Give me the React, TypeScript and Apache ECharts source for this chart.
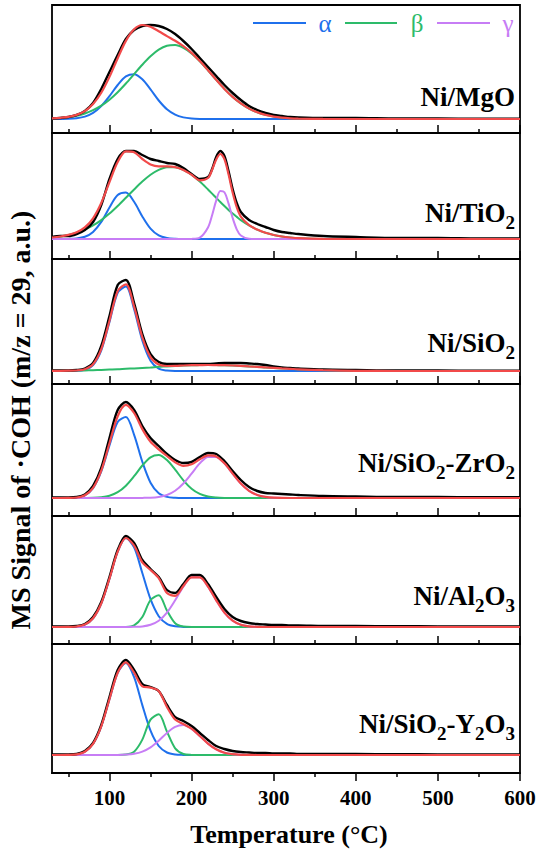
import React, { useEffect, useRef } from "react";
import * as echarts from "echarts";

// Temperature grids (°C)
const TEMPS = [30, 40, 50, 60, 70, 80, 90, 100, 110, 120, 130, 140, 150, 160, 170, 180, 190, 200, 210, 220, 230, 240, 250, 260, 270, 280, 290, 300, 310, 320, 330, 360, 400, 450, 500, 550, 600];
const TEMPS_TIO2 = [30, 40, 50, 60, 70, 80, 90, 100, 110, 120, 130, 140, 150, 160, 170, 180, 190, 200, 210, 220, 225, 230, 235, 240, 245, 250, 255, 260, 270, 280, 290, 300, 310, 320, 330, 360, 400, 450, 500, 550, 600];

const TICKS = [100, 200, 300, 400, 500, 600];
const MINOR_TICKS = [50, 150, 250, 350, 450, 550];

// Ni/MgO
const MGO_EXP = [0.5, 1, 2, 4, 8, 16, 30, 47, 64, 80, 89, 93, 94, 93, 90, 85, 78, 70, 61, 52, 43, 34, 26, 19, 13, 9, 6, 4, 3, 2, 1.5, 1, 1, 0.5, 0.5, 0.3, 0.3];
const MGO_FIT = [0.6, 1.2, 2.1, 4.1, 7.9, 14.9, 26.2, 42.1, 60.8, 78.1, 89.7, 94.0, 92.3, 87.8, 82.9, 78.2, 72.8, 66.1, 57.9, 48.7, 39.2, 30.1, 22.1, 15.6, 10.4, 6.7, 4.1, 2.4, 1.3, 0.7, 0.4, 0.1, 0, 0, 0, 0, 0];
const MGO_ALPHA = [0, 0.1, 0.2, 0.8, 2.4, 6.1, 12.9, 22.8, 34.0, 42.6, 44.8, 39.7, 29.6, 18.5, 9.7, 4.3, 1.6, 0.5, 0.1, 0, 0, 0, 0, 0, 0, 0, 0, 0, 0, 0, 0, 0, 0, 0, 0, 0, 0];
const MGO_BETA = [0.6, 1.1, 1.9, 3.3, 5.5, 8.8, 13.3, 19.3, 26.8, 35.5, 44.9, 54.3, 62.7, 69.3, 73.2, 73.9, 71.2, 65.6, 57.8, 48.7, 39.2, 30.1, 22.1, 15.6, 10.4, 6.7, 4.1, 2.4, 1.3, 0.7, 0.4, 0.1, 0, 0, 0, 0, 0];

// Ni/TiO2
const TIO2_EXP = [2, 3, 3, 5, 9, 17, 34, 60, 80, 88, 88, 84, 80, 78, 76, 75, 71, 65, 60, 62, 70, 82, 88, 83, 68, 50, 36, 27, 19, 15, 12, 9, 7, 6, 5, 3, 2, 1, 1, 0.5, 0.5];
const TIO2_FIT = [1.5, 2.5, 4.1, 6.7, 11.6, 20.7, 36.0, 56.9, 76.9, 87.6, 86.7, 80.0, 74.6, 72.7, 72.7, 71.9, 69.1, 64.3, 58.7, 61.0, 69.2, 79.6, 85.0, 79.8, 64.7, 46.5, 31.8, 22.4, 13.8, 9.4, 6.2, 4.0, 2.5, 1.5, 0.8, 0.1, 0, 0, 0, 0, 0];
const TIO2_ALPHA = [0, 0, 0.1, 0.5, 2.2, 7.1, 17.1, 31.5, 43.9, 46.4, 37.2, 22.6, 10.4, 3.6, 1.0, 0.2, 0, 0, 0, 0, 0, 0, 0, 0, 0, 0, 0, 0, 0, 0, 0, 0, 0, 0, 0, 0, 0, 0, 0, 0, 0];
const TIO2_BETA = [1.5, 2.5, 4.0, 6.2, 9.4, 13.6, 18.9, 25.4, 33.0, 41.2, 49.5, 57.4, 64.2, 69.1, 71.7, 71.7, 69.1, 64.2, 57.4, 49.5, 45.4, 41.2, 37.0, 33.0, 29.1, 25.4, 22.1, 18.9, 13.6, 9.4, 6.2, 4.0, 2.5, 1.5, 0.8, 0.1, 0, 0, 0, 0, 0];
const TIO2_GAMMA = [0, 0, 0, 0, 0, 0, 0, 0, 0, 0, 0, 0, 0, 0, 0, 0, 0, 0.1, 1.3, 11.5, 23.8, 38.4, 48.0, 46.8, 35.6, 21.1, 9.7, 3.5, 0.2, 0, 0, 0, 0, 0, 0, 0, 0, 0, 0, 0, 0];

// Ni/SiO2
const SIO2_EXP = [0.5, 0.5, 0.5, 1, 2.5, 8, 25, 55, 86, 91, 68, 37, 17, 9, 7, 7, 7, 7, 7, 7, 7.5, 8, 8, 8, 7.5, 7, 6, 4.5, 3.5, 3, 2.5, 1.5, 1, 0.5, 0.5, 0.3, 0.3];
const SIO2_FIT = [0.2, 0.2, 0.3, 0.5, 1.8, 6.7, 21.8, 50.3, 79.9, 86.7, 64.4, 33.7, 13.9, 6.5, 5.0, 5.1, 5.5, 5.8, 5.9, 6.0, 5.9, 5.8, 5.5, 5.1, 4.6, 4.2, 3.6, 3.1, 2.6, 2.2, 1.7, 0.8, 0.2, 0, 0, 0, 0];
const SIO2_ALPHA = [0, 0, 0, 0.1, 1.2, 5.9, 20.7, 48.9, 78.2, 84.5, 61.8, 30.6, 10.3, 2.3, 0.4, 0, 0, 0, 0, 0, 0, 0, 0, 0, 0, 0, 0, 0, 0, 0, 0, 0, 0, 0, 0, 0, 0];
const SIO2_BETA = [0.15, 0.2, 0.3, 0.4, 0.6, 0.8, 1.1, 1.4, 1.7, 2.2, 2.6, 3.1, 3.6, 4.2, 4.6, 5.1, 5.5, 5.8, 5.9, 6.0, 5.9, 5.8, 5.5, 5.1, 4.6, 4.2, 3.6, 3.1, 2.6, 2.2, 1.7, 0.8, 0.2, 0, 0, 0, 0];

// Ni/SiO2-ZrO2
const ZR_EXP = [0.5, 0.5, 0.5, 1, 3.5, 12, 30, 60, 88, 96, 88, 72, 60, 52, 44, 38, 35, 36, 41, 45, 44, 37, 27, 18, 11, 7, 5, 4.5, 4, 3.5, 3, 2, 1.5, 1, 1, 0.8, 0.8];
const ZR_FIT = [0, 0, 0.1, 0.5, 2.8, 10.1, 27.4, 54.8, 81.8, 93.2, 85.0, 68.9, 56.3, 48.7, 42.0, 35.7, 32.2, 33.7, 38.7, 42.6, 41.6, 34.7, 24.4, 14.5, 7.2, 3.0, 1.1, 0.3, 0.1, 0, 0, 0, 0, 0, 0, 0, 0];
const ZR_ALPHA = [0, 0, 0.1, 0.5, 2.7, 9.9, 26.6, 52.5, 76.0, 80.9, 63.2, 36.3, 15.3, 4.7, 1.1, 0.2, 0, 0, 0, 0, 0, 0, 0, 0, 0, 0, 0, 0, 0, 0, 0, 0, 0, 0, 0, 0, 0];
const ZR_BETA = [0, 0, 0, 0, 0.05, 0.2, 0.8, 2.3, 5.8, 12.3, 21.8, 32.5, 40.7, 42.9, 37.9, 28.3, 17.7, 9.3, 4.1, 1.5, 0.5, 0.1, 0, 0, 0, 0, 0, 0, 0, 0, 0, 0, 0, 0, 0, 0, 0];
const ZR_GAMMA = [0, 0, 0, 0, 0, 0, 0, 0, 0, 0, 0, 0.1, 0.3, 1.1, 3.0, 7.2, 14.5, 24.4, 34.6, 41.1, 41.1, 34.6, 24.4, 14.5, 7.2, 3.0, 1.1, 0.3, 0.1, 0, 0, 0, 0, 0, 0, 0, 0];

// Ni/Al2O3
const AL_EXP = [0.5, 0.5, 0.5, 1, 3, 10, 25, 50, 77, 91, 84, 67, 58, 50, 37, 34, 43, 52, 52, 43, 30, 18, 10, 6, 4, 3, 2.5, 2, 2, 1.5, 1.5, 1, 1, 0.8, 0.6, 0.5, 0.5];
const AL_FIT = [0, 0, 0.1, 0.5, 2.4, 8.7, 23.5, 48.3, 75.3, 89.0, 81.4, 64.6, 57.0, 48.9, 34.0, 31.1, 40.9, 49.7, 49.7, 40.4, 26.7, 14.4, 6.3, 2.2, 0.6, 0.2, 0, 0, 0, 0, 0, 0, 0, 0, 0, 0, 0];
const AL_ALPHA = [0, 0, 0.1, 0.5, 2.4, 8.7, 23.5, 48.3, 75.3, 88.9, 79.6, 54.0, 27.8, 10.8, 3.2, 0.7, 0.1, 0, 0, 0, 0, 0, 0, 0, 0, 0, 0, 0, 0, 0, 0, 0, 0, 0, 0, 0, 0];
const AL_BETA = [0, 0, 0, 0, 0, 0, 0, 0, 0, 0.1, 1.6, 10.0, 27.0, 31.8, 16.4, 3.7, 0.4, 0, 0, 0, 0, 0, 0, 0, 0, 0, 0, 0, 0, 0, 0, 0, 0, 0, 0, 0, 0];
const AL_GAMMA = [0, 0, 0, 0, 0, 0, 0, 0, 0, 0, 0.2, 0.6, 2.2, 6.3, 14.4, 26.7, 40.4, 49.7, 49.7, 40.4, 26.7, 14.4, 6.3, 2.2, 0.6, 0.2, 0, 0, 0, 0, 0, 0, 0, 0, 0, 0, 0];

// Ni/SiO2-Y2O3
const Y_EXP = [0.5, 0.5, 0.5, 1, 4, 12, 30, 58, 85, 95, 85, 71, 68, 64, 50, 38, 34, 29, 22, 15, 9, 6, 4, 3, 2.5, 2, 2, 1.5, 1.5, 1.5, 1, 1, 1, 0.8, 0.6, 0.5, 0.5];
const Y_FIT = [0, 0, 0.1, 0.7, 3.3, 11.2, 28.7, 55.8, 82.3, 92.7, 82.3, 68.7, 67.4, 64.0, 48.0, 35.4, 31.0, 26.3, 19.0, 11.4, 5.7, 2.3, 0.8, 0.2, 0.1, 0, 0, 0, 0, 0, 0, 0, 0, 0, 0, 0, 0];
const Y_ALPHA = [0, 0, 0.1, 0.7, 3.3, 11.2, 28.7, 55.8, 82.2, 91.9, 77.8, 49.9, 24.3, 9.0, 2.5, 0.5, 0.1, 0, 0, 0, 0, 0, 0, 0, 0, 0, 0, 0, 0, 0, 0, 0, 0, 0, 0, 0, 0];
const Y_BETA = [0, 0, 0, 0, 0, 0, 0, 0, 0, 0.4, 3.3, 15.4, 35.4, 40.7, 23.4, 6.7, 1.0, 0.1, 0, 0, 0, 0, 0, 0, 0, 0, 0, 0, 0, 0, 0, 0, 0, 0, 0, 0, 0];
const Y_GAMMA = [0, 0, 0, 0, 0, 0, 0, 0, 0.1, 0.4, 1.2, 3.4, 7.7, 14.3, 22.1, 28.2, 29.9, 26.2, 19.0, 11.4, 5.7, 2.3, 0.8, 0.2, 0.1, 0, 0, 0, 0, 0, 0, 0, 0, 0, 0, 0, 0];

const LEGEND_NAMES = ["α", "β", "γ"];

const BLUE = "#1f70ec";
const GREEN = "#2dbb6a";
const PURPLE = "#c77df5";
const RED = "#f24a4a";
const BLACK = "#000000";
const SERIF = '"Liberation Serif", "Times New Roman", serif';

export default function App() {
  const ref = useRef<HTMLDivElement>(null);

  useEffect(() => {
    if (!ref.current) return;
    const chart = echarts.init(ref.current, null, { renderer: "svg" });

    const panels = [
      { label: "{a|Ni/MgO}", temps: TEMPS, exp: MGO_EXP, fit: MGO_FIT, alpha: MGO_ALPHA, beta: MGO_BETA, gamma: null as number[] | null, top: 5, bottom: 133, offset: 14, labelY: 97 },
      { label: "{a|Ni/TiO}{s|2}", temps: TEMPS_TIO2, exp: TIO2_EXP, fit: TIO2_FIT, alpha: TIO2_ALPHA, beta: TIO2_BETA, gamma: TIO2_GAMMA, top: 133, bottom: 259, offset: 20, labelY: 213 },
      { label: "{a|Ni/SiO}{s|2}", temps: TEMPS, exp: SIO2_EXP, fit: SIO2_FIT, alpha: SIO2_ALPHA, beta: SIO2_BETA, gamma: null, top: 259, bottom: 384, offset: 13, labelY: 343 },
      { label: "{a|Ni/SiO}{s|2}{a|-ZrO}{s|2}", temps: TEMPS, exp: ZR_EXP, fit: ZR_FIT, alpha: ZR_ALPHA, beta: ZR_BETA, gamma: ZR_GAMMA, top: 384, bottom: 516, offset: 18, labelY: 463 },
      { label: "{a|Ni/Al}{s|2}{a|O}{s|3}", temps: TEMPS, exp: AL_EXP, fit: AL_FIT, alpha: AL_ALPHA, beta: AL_BETA, gamma: AL_GAMMA, top: 516, bottom: 644, offset: 17, labelY: 596 },
      { label: "{a|Ni/SiO}{s|2}{a|-Y}{s|2}{a|O}{s|3}", temps: TEMPS, exp: Y_EXP, fit: Y_FIT, alpha: Y_ALPHA, beta: Y_BETA, gamma: Y_GAMMA, top: 644, bottom: 773, offset: 18, labelY: 724 },
    ];

    const grids: any[] = [];
    const xAxes: any[] = [];
    const yAxes: any[] = [];
    const series: any[] = [];
    const graphics: any[] = [];

    panels.forEach((p, i) => {
      const last = i === panels.length - 1;
      const h = p.bottom - p.top;
      grids.push({ left: 52, right: 20, top: p.top, height: h, show: true, borderColor: "#000", borderWidth: 1.8, backgroundColor: "transparent" });
      xAxes.push({
        type: "value", gridIndex: i, min: 30, max: 600, position: "bottom",
        axisLine: { show: true, onZero: false, lineStyle: { color: "#000", width: 1.8 } },
        axisTick: { show: true, inside: !last, length: 8, customValues: TICKS, lineStyle: { color: "#000", width: 1.5 } },
        axisLabel: { show: last, customValues: TICKS, color: "#000", fontFamily: SERIF, fontWeight: "bold", fontSize: 21, margin: 14 },
        splitLine: { show: false },
      });
      xAxes.push({
        type: "value", gridIndex: i, min: 30, max: 600, position: "bottom",
        axisLine: { show: false, onZero: false },
        axisTick: { show: true, inside: !last, length: 4, customValues: MINOR_TICKS, lineStyle: { color: "#000", width: 1.5 } },
        axisLabel: { show: false },
        splitLine: { show: false },
      });
      yAxes.push({ type: "value", gridIndex: i, min: -p.offset, max: h - p.offset, show: false });

      const mk = (name: string, arr: number[], color: string, width: number) => ({
        type: "line", name, xAxisIndex: i * 2, yAxisIndex: i,
        data: p.temps.map((t, k) => [t, arr[k]]),
        symbol: "none", smooth: 0.3, silent: true,
        lineStyle: { color, width }, itemStyle: { color },
      });
      series.push(mk(LEGEND_NAMES[0], p.alpha, BLUE, 2));
      series.push(mk(LEGEND_NAMES[1], p.beta, GREEN, 2));
      if (p.gamma) series.push(mk(LEGEND_NAMES[2], p.gamma, PURPLE, 2));
      series.push(mk("exp", p.exp, BLACK, 2.4));
      series.push(mk("fit", p.fit, RED, 2.2));

      graphics.push({
        type: "text", x: 515, y: p.labelY, z: 100,
        style: {
          text: p.label, align: "right", verticalAlign: "middle",
          rich: {
            a: { fontFamily: SERIF, fontWeight: "bold", fontSize: 27, fill: "#000", lineHeight: 30 },
            s: { fontFamily: SERIF, fontWeight: "bold", fontSize: 19, fill: "#000", lineHeight: 30, verticalAlign: "top", padding: [15, 0, 0, 0] },
          },
        },
      });
    });

    // legend (top panel)
    const legendItems = [
      { x1: 253, x2: 306, tx: 325, color: BLUE, name: LEGEND_NAMES[0] },
      { x1: 345, x2: 397, tx: 417, color: GREEN, name: LEGEND_NAMES[1] },
      { x1: 437, x2: 490, tx: 508, color: PURPLE, name: LEGEND_NAMES[2] },
    ];
    legendItems.forEach((it) => {
      graphics.push({ type: "line", shape: { x1: it.x1, y1: 23, x2: it.x2, y2: 23 }, style: { stroke: it.color, lineWidth: 2.2 }, z: 100 });
      graphics.push({ type: "text", x: it.tx, y: 23, z: 100, style: { text: it.name, fill: it.color, font: `normal 25px ${SERIF}`, align: "center", verticalAlign: "middle" } });
    });

    graphics.push({
      type: "text", x: 20, y: 420, rotation: Math.PI / 2, z: 100,
      style: { text: "MS Signal of ·COH (m/z = 29, a.u.)", fill: "#000", font: `bold 28px ${SERIF}`, align: "center", verticalAlign: "middle" },
    });
    graphics.push({
      type: "text", x: 289, y: 834, z: 100,
      style: { text: "Temperature (°C)", fill: "#000", font: `bold 26px ${SERIF}`, align: "center", verticalAlign: "middle" },
    });

    chart.setOption({
      animation: false,
      backgroundColor: "#ffffff",
      grid: grids,
      xAxis: xAxes,
      yAxis: yAxes,
      series,
      graphic: graphics,
    });

    return () => chart.dispose();
  }, []);

  return <div ref={ref} style={{ position: "fixed", left: 0, top: 0, width: 540, height: 854 }} />;
}
